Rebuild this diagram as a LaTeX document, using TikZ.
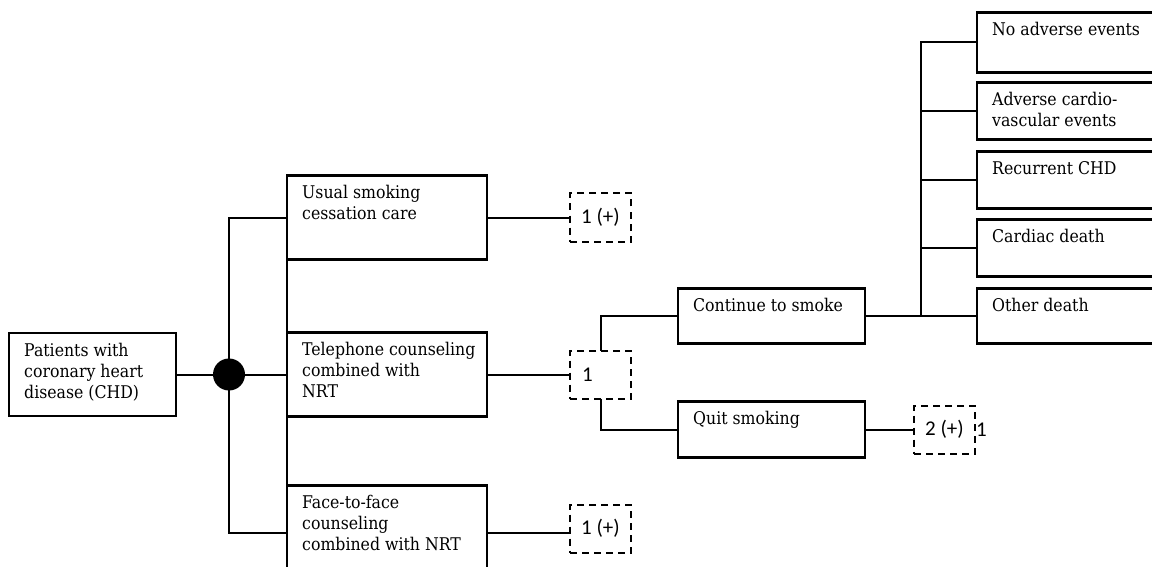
\documentclass[tikz,border=0pt]{standalone}
\usepackage{fontspec}
\setmainfont{DejaVu Serif Condensed}
\newfontfamily\digitfont{Carlito}
\usetikzlibrary{positioning,calc}

\begin{document}
\begin{tikzpicture}[x=1pt,y=-1pt]
      \tikzstyle{stage}=[rectangle, draw=black, line width=2.6pt, minimum width=200pt, minimum height=84pt, inner sep=0pt, outer sep=0pt]
      \tikzstyle{leaf}=[stage, minimum height=57pt]
      \tikzstyle{tag}=[anchor=north west, align=left, inner xsep=15pt, inner ysep=10pt, font=\fontsize{17.5}{21}\selectfont]
      \tikzstyle{chance}=[circle, fill=black, minimum size=32pt, inner sep=0pt, outer sep=0pt]
      \tikzstyle{pending}=[rectangle, draw=black, line width=2pt, dash pattern=on 7pt off 5pt, minimum width=61pt, minimum height=48pt, outer sep=0pt, font=\digitfont\fontsize{21}{25}\selectfont]
      \tikzstyle{link}=[line width=2pt]

      \useasboundingbox (0,0) rectangle (1152,567);
      \clip (0,0) rectangle (1152,567);

      \node[stage, minimum width=167pt, minimum height=83pt, label={[tag]north west:Patients with\\coronary heart\\disease (CHD)}] (patients) at (92.5,374.5) {};
      \node[chance] (hub) [right=37pt of patients] {};
      \node[stage, label={[tag]north west:Telephone counseling\\combined with\\NRT}] (tel) [right=42pt of hub] {};
      \node[stage, label={[tag]north west:Usual smoking\\cessation care}] (usual) [above=73pt of tel] {};
      \node[stage, minimum height=94pt, label={[tag]north west:Face-to-face\\counseling\\combined with NRT}] (face) [below=69pt of tel] {};

      \node[pending] (dusual) [right=83pt of usual] {1 (+)};
      \node[pending, text width=37pt, inner xsep=12pt, align=left] (dtel) [right=83pt of tel] {1};
      \node[pending] (dface) [right=83pt of face, yshift=4pt] {1 (+)};

      \node[stage, minimum width=187pt, minimum height=55pt, label={[tag]north west:Continue to smoke}] (cont) [above right=7pt and 47pt of dtel] {};
      \node[stage, minimum width=187pt, minimum height=56pt, label={[tag]north west:Quit smoking}] (quit) [below right=3pt and 47pt of dtel] {};
      \node[pending] (dquit) [right=49pt of quit] {2 (+)};
      \node[anchor=west, inner sep=1pt, font=\digitfont\fontsize{21}{25}\selectfont] (dquitnote) at (dquit.east) {1};

      \node[leaf, minimum height=55pt, label={[tag]north west:Other death}] (other) [right=112pt of cont] {};
      \node[leaf, label={[tag]north west:Cardiac death}] (cardiac) [above=12pt of other] {};
      \node[leaf, label={[tag]north west:Recurrent CHD}] (recur) [above=11pt of cardiac] {};
      \node[leaf, label={[tag]north west:Adverse cardio-\\vascular events}] (adverse) [above=12pt of recur] {};
      \node[leaf, minimum height=60pt, label={[tag]north west:No adverse events}] (noadv) [above=10pt of adverse] {};

      % first split
      \draw[link] (patients.east) -- (tel.west);
      \draw[link] (usual.west) -| (hub.center) |- (face.west);
      \draw[link] (usual.west) -- (face.west);
      \draw[link] (usual.east) -- (dusual.west);
      \draw[link] (tel.east) -- (dtel.west);
      \draw[link] (face.east) -- (dface.west |- face.east);

      % smoking status
      \draw[link] (dtel.north) |- (cont.west);
      \draw[link] (dtel.south) |- (quit.west);
      \draw[link] (quit.east) -- (dquit.west);

      % outcomes
      \coordinate (fork) at ($(cont.east)!0.5!(other.west)$);
      \draw[link] (cont.east) -- (other.west);
      \draw[link] (fork |- other.west) |- (noadv.west);
      \foreach \n in {adverse, recur, cardiac}
        \draw[link] (fork |- \n.west) -- (\n.west);
\end{tikzpicture}
\end{document}
